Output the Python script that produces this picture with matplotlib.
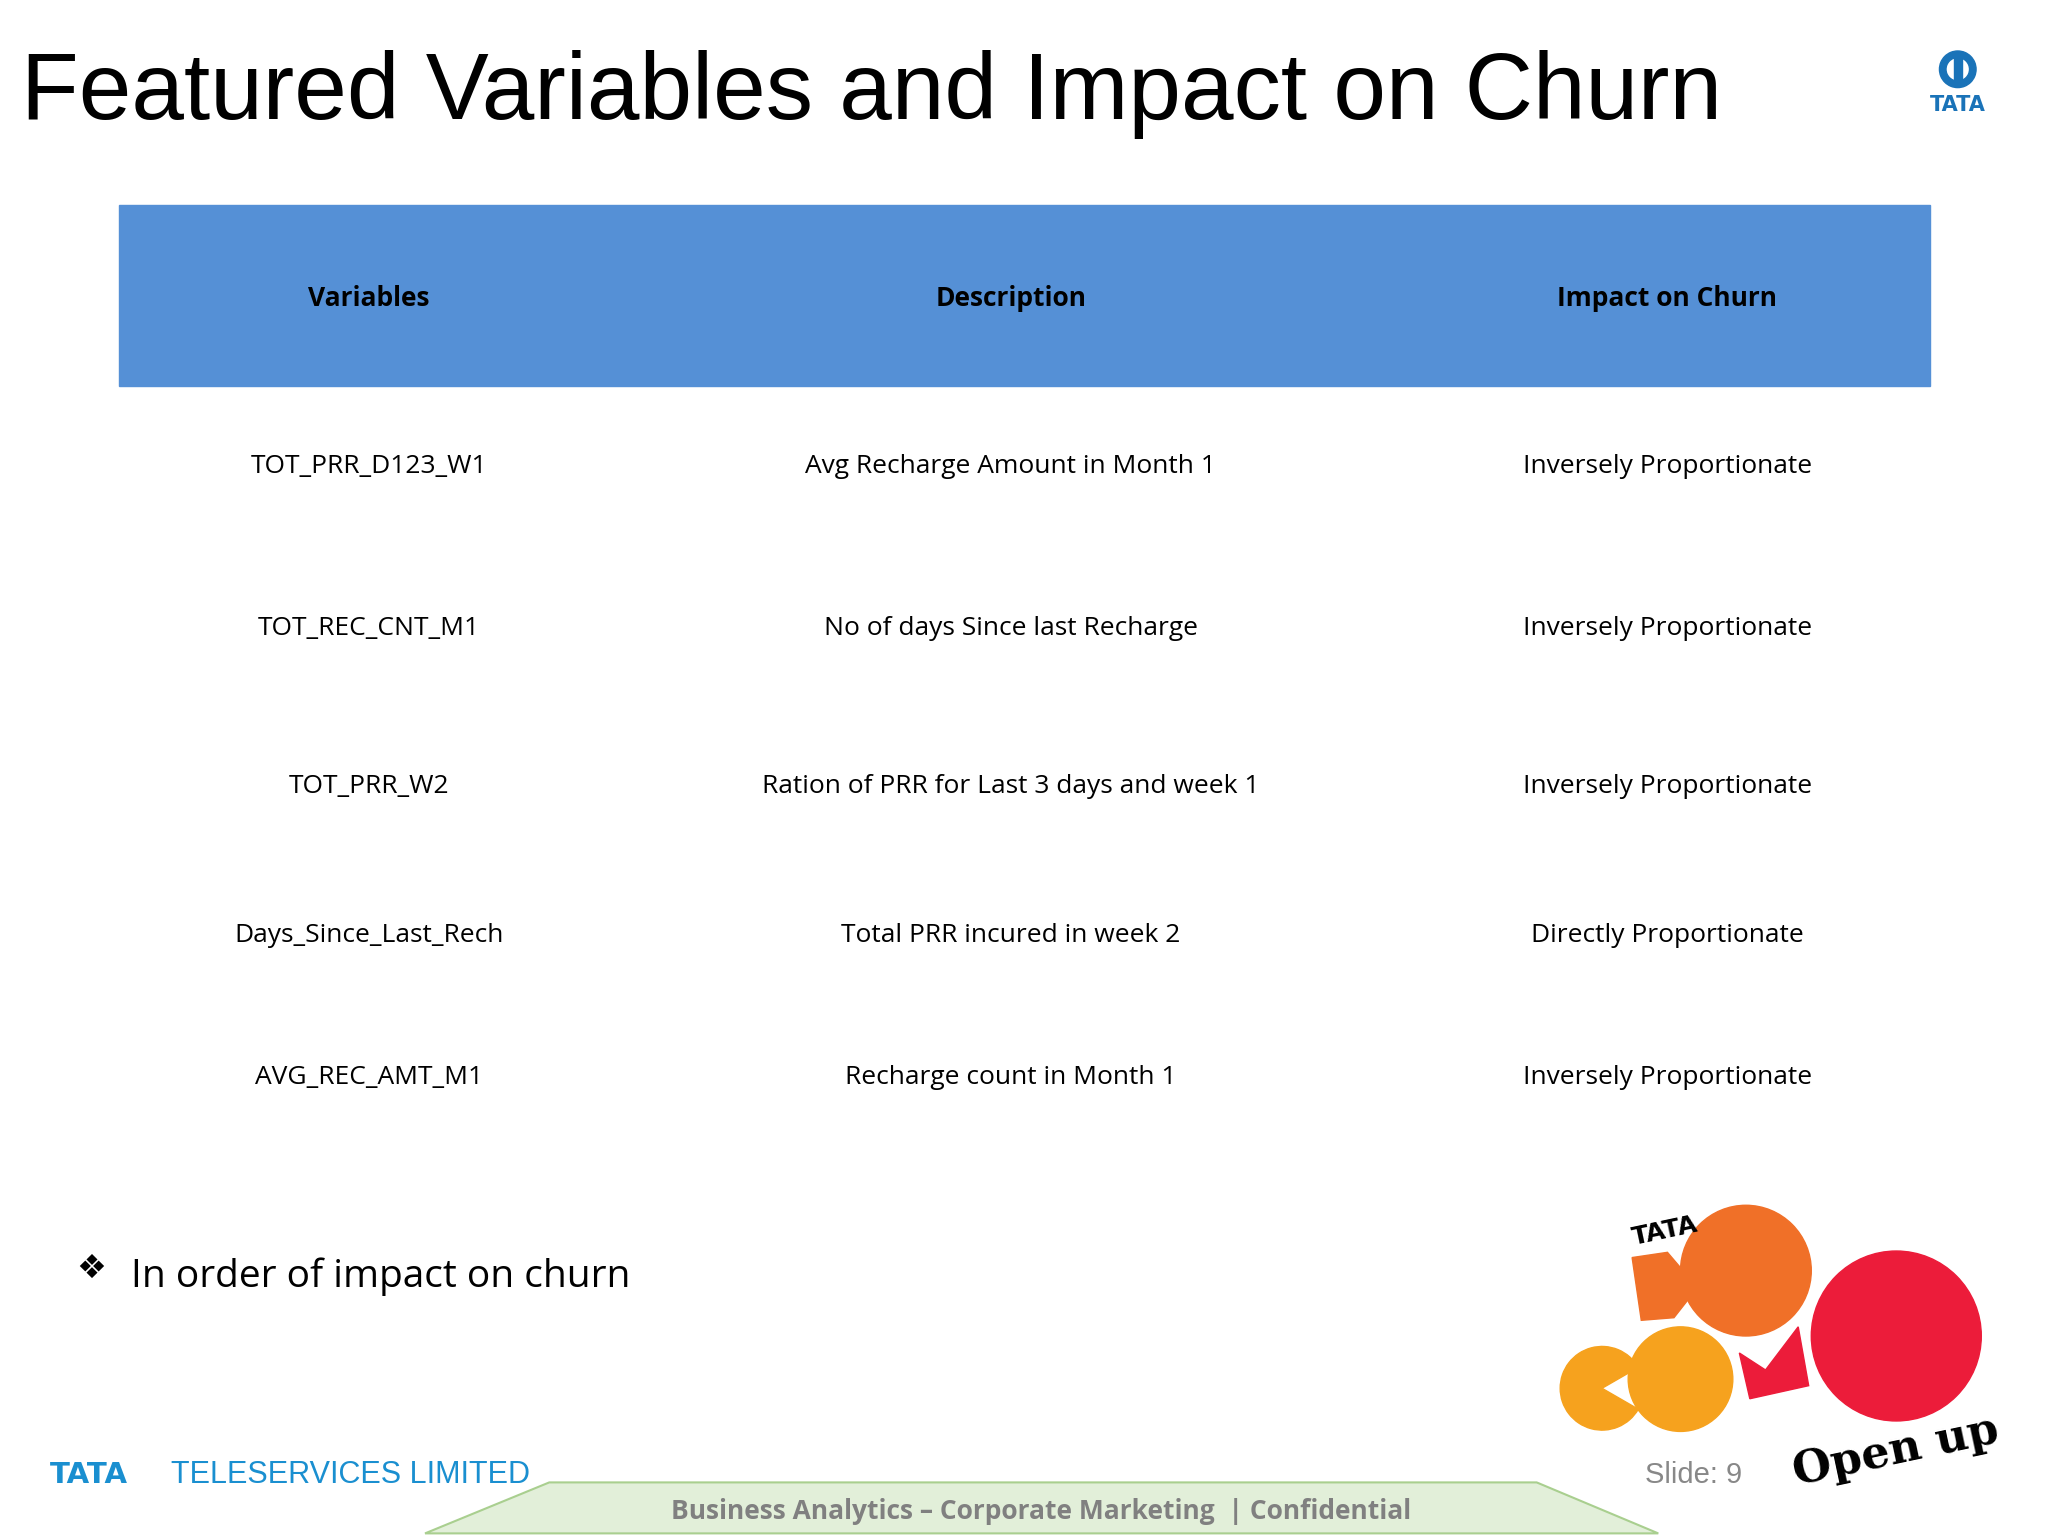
import matplotlib.pyplot as plt
from matplotlib.patches import Rectangle, Polygon, Circle, Wedge

# table data
headers = ["Variables", "Description", "Impact on Churn"]
variables = ["TOT_PRR_D123_W1", "TOT_REC_CNT_M1", "TOT_PRR_W2",
             "Days_Since_Last_Rech", "AVG_REC_AMT_M1"]
descriptions = ["Avg Recharge Amount in Month 1", "No of days Since last Recharge",
                "Ration of PRR for Last 3 days and week 1", "Total PRR incured in week 2",
                "Recharge count in Month 1"]
impacts = ["Inversely Proportionate", "Inversely Proportionate", "Inversely Proportionate",
           "Directly Proportionate", "Inversely Proportionate"]

W, H = 1566, 1175
row_y = [357, 481, 602, 716, 824]
col_x = [282, 773, 1275]

fig = plt.figure(figsize=(20.48, 15.36), dpi=100)
ax = fig.add_axes([0, 0, 1, 1])
ax.set_xlim(0, W)
ax.set_ylim(H, 0)
ax.axis("off")

body = "Open Sans"

# title
ax.text(16, 72, "Featured Variables and Impact on Churn", fontsize=68,
        family="Liberation Sans", va="center", ha="left")

# TATA logo top right
ax.add_patch(Wedge((1497, 53), 14, 0, 360, width=5, color="#1a73b8"))
ax.add_patch(Rectangle((1494, 43), 6, 22, color="#1a73b8"))
ax.text(1497, 80, "TATA", fontsize=15, fontweight="bold", color="#1a73b8",
        ha="center", va="center", family="DejaVu Sans")

# header band
ax.add_patch(Rectangle((91, 157), 1385, 138, color="#5590d6"))
for x, h in zip(col_x, headers):
    ax.text(x, 228, h, fontsize=19, fontweight="bold", ha="center", va="center", family=body)

for i, y in enumerate(row_y):
    for x, txt in zip(col_x, [variables[i], descriptions[i], impacts[i]]):
        ax.text(x, y, txt, fontsize=19, ha="center", va="center", family=body)

# bullet
ax.text(70, 970, "\u2756", fontsize=24, ha="center", va="center", family="DejaVu Sans")
ax.text(100, 977, "In order of impact on churn", fontsize=28, va="center", family=body)

# footer
ax.text(38, 1128, "TATA", fontsize=21, fontweight="bold", color="#1a8fd0",
        va="center", family="DejaVu Sans")
ax.text(131, 1128, "TELESERVICES LIMITED", fontsize=22, color="#1a8fd0",
        va="center", family="Liberation Sans")
ax.add_patch(Polygon([(325, 1173), (420, 1134), (1175, 1134), (1268, 1173)],
                     facecolor="#e2efd9", edgecolor="#a9cf8f", lw=1.5))
ax.text(796, 1156, "Business Analytics \u2013 Corporate Marketing  | Confidential",
        fontsize=19, fontweight="bold", color="#808080", ha="center", va="center", family=body)
ax.text(1295, 1128, "Slide: 9", fontsize=21, color="#888888", ha="center", va="center",
        family="Liberation Sans")

# DoCoMo logo
ax.add_patch(Circle((1335, 972), 50, color="#f07028"))
ax.add_patch(Circle((1450, 1022), 65, color="#ec1c3a"))
ax.add_patch(Circle((1285, 1055), 40, color="#f6a21e"))
ax.add_patch(Polygon([(1248, 962), (1275, 958), (1298, 985), (1280, 1008), (1255, 1010)],
                     color="#f07028"))
ax.add_patch(Wedge((1225, 1062), 32, 30, 330, color="#f6a21e"))
ax.add_patch(Polygon([(1330, 1035), (1350, 1048), (1375, 1015), (1383, 1060), (1338, 1070)],
                     color="#ec1c3a"))
ax.text(1273, 942, "TATA", fontsize=18, fontweight="bold", rotation=12,
        ha="center", va="center", family="DejaVu Sans")
ax.text(1450, 1110, "Open up", fontsize=32, fontweight="bold", rotation=12,
        ha="center", va="center", family="DejaVu Serif")

fig.savefig("out.png", dpi=100, facecolor="white")
